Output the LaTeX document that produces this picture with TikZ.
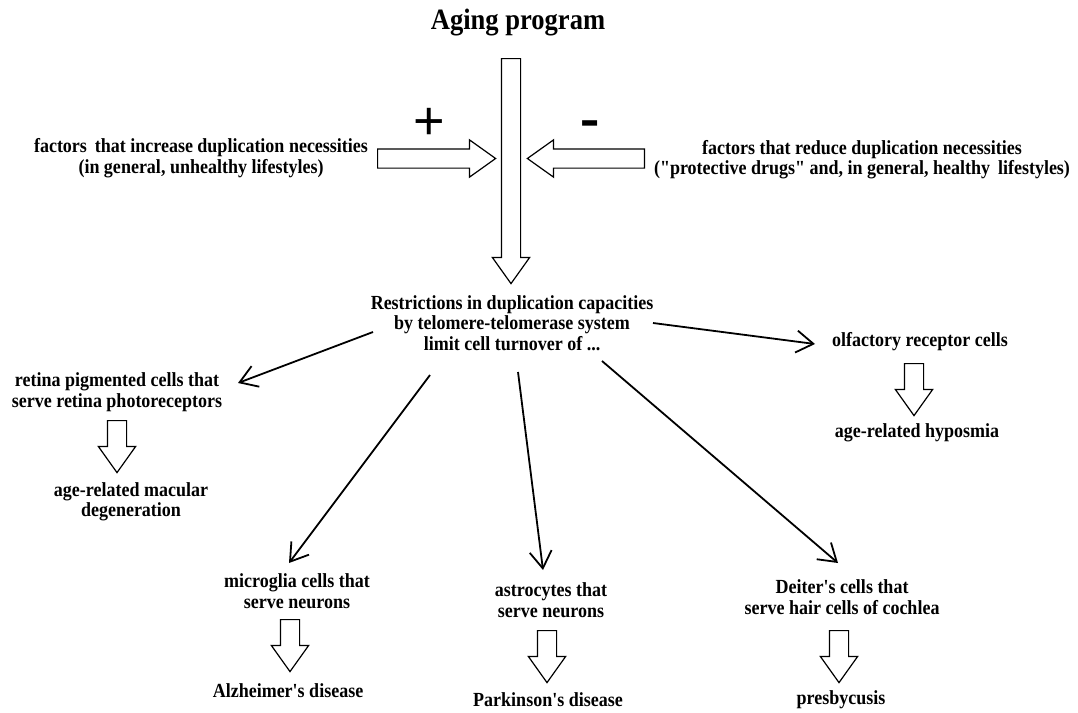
\documentclass[tikz,border=0pt]{standalone}
\usepackage{fontspec}
\setmainfont{Liberation Serif}[FakeStretch=0.9,Ligatures=TeXOff]
\setsansfont{Liberation Sans}
\usetikzlibrary{arrows.meta,shapes.arrows}

\begin{document}
\begin{tikzpicture}[x=1pt,y=-1pt,>={Straight Barb[length=17pt,width=22pt]},line width=1.8pt,
                    txt/.style={align=center,inner sep=2pt,font=\bfseries\fontsize{20}{20.5}\selectfont},
                    fat arrow/.style={single arrow,draw,line width=1.2pt,inner xsep=0pt,inner ysep=9pt,
                      single arrow head extend=9pt,single arrow tip angle=71,minimum height=#1,anchor=tail},
                    fat arrow/.default=52]

  \useasboundingbox (0,0) rectangle (1078,712);

  \node[txt,font=\bfseries\fontsize{29.5}{30}\selectfont] (title) at (518,23) {Aging program};
  \node[fat arrow=225,rotate=-90] (main) at (511,58) {};

  \node[txt] (incr) at (201,158) {factors\, that increase duplication necessities\\(in general, unhealthy lifestyles)};
  \node[fat arrow=118] (plusarrow) at (377,158.5) {};
  \node[font=\sffamily\fontsize{54}{54}\selectfont] (plus) at (429,124) {+};
  \node[txt] (decr) at (862,159.5) {factors that reduce duplication necessities\\("protective drugs" and, in general, healthy\, lifestyles)};
  \node[fat arrow=117,rotate=180] (minusarrow) at (645,158.5) {};
  \node[font=\bfseries\fontsize{64}{64}\selectfont] (minus) at (590,130) {-};

  \node[txt] (restrict) at (512,323) {Restrictions in duplication capacities\\by telomere-telomerase system\\limit cell turnover of ...};

  \node[txt] (retina) at (117,392) {retina pigmented cells that\\serve retina photoreceptors};
  \node[fat arrow,rotate=-90] (ba1) at (117,420) {};
  \node[txt] (macular) at (131,502) {age-related macular\\degeneration};

  \node[txt] (olfactory) at (920,342) {olfactory receptor cells};
  \node[fat arrow,rotate=-90] (ba2) at (914,363) {};
  \node[txt] (hyposmia) at (917,433) {age-related hyposmia};

  \node[txt] (microglia) at (297,591) {microglia cells that\\serve neurons};
  \node[fat arrow,rotate=-90] (ba3) at (290,619) {};
  \node[txt] (alzheimer) at (288,691) {Alzheimer's disease};

  \node[txt] (astro) at (551,600) {astrocytes that\\serve neurons};
  \node[fat arrow,rotate=-90] (ba4) at (547,630) {};
  \node[txt] (parkinson) at (548,700) {Parkinson's disease};

  \node[txt] (deiter) at (842,597) {Deiter's cells that\\serve hair cells of cochlea};
  \node[fat arrow,rotate=-90] (ba5) at (839,630) {};
  \node[txt] (presby) at (841,700) {presbycusis};

  \path[->]
    ([shift={(-139,9)}]restrict.center) edge ([shift={(121,-9)}]retina.center)
    ([shift={(-82,52)}]restrict.center) edge ([shift={(-8,-28)}]microglia.center)
    ([shift={(6,49)}]restrict.center) edge ([shift={(-8,-30)}]astro.center)
    ([shift={(90,38)}]restrict.center) edge ([shift={(-4,-34)}]deiter.center)
    ([shift={(141,0)}]restrict.center) edge ([shift={(-105,2)}]olfactory.center)
    ;
\end{tikzpicture}
\end{document}
